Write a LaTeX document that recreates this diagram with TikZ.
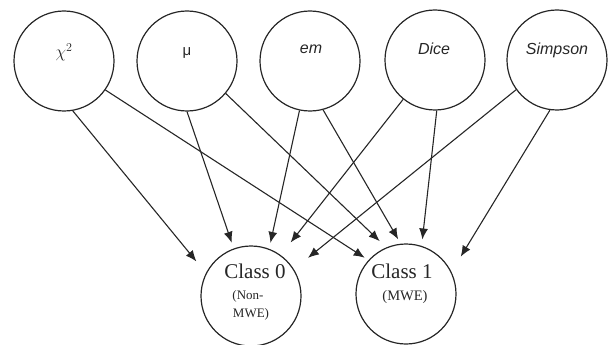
\documentclass[tikz,border=0pt]{standalone}
\usepackage{fontspec}
\setmainfont{Liberation Serif}
\newfontfamily\labsans{Liberation Sans}
\usetikzlibrary{arrows.meta}
\definecolor{ink}{gray}{0.15}
\begin{document}
\begin{tikzpicture}[x=1pt,y=-1pt,
  var/.style={circle,draw=ink,line width=1.2pt,minimum size=100pt,inner sep=0pt},
  lab/.style={anchor=base,inner sep=0pt,text=ink,font=\labsans\itshape\fontsize{16}{18}\selectfont},
  clab/.style={anchor=base,inner sep=0pt,text=ink,font=\fontsize{21}{23}\selectfont},
  slab/.style={anchor=base,inner sep=0pt,text=ink,font=\fontsize{13}{15}\selectfont},
  arr/.style={draw=ink,line width=1.1pt,-{Latex[length=11pt,width=9pt]}}]
\useasboundingbox (0,0) rectangle (608,345);
% top variable nodes
\node[var] (chi) at (64,61) {};
\node[var] (mu) at (187,61) {};
\node[var] (em) at (310,61) {};
\node[var] (dice) at (435,60) {};
\node[var] (simp) at (557,60) {};
% class nodes
\node[var] (c0) at (251,296) {};
\node[var] (c1) at (406,294) {};
% labels
\node[lab,font=\fontsize{17}{19}\selectfont] (chil) at (64,58) {$\chi^{2}$};
\node[lab,font=\labsans\fontsize{15}{17}\selectfont] (mul) at (187,56) {μ};
\node[lab] (eml) at (311,54) {em};
\node[lab] (dicel) at (434,55) {Dice};
\node[lab] (simpl) at (557,55) {Simpson};
\node[clab] (c0a) at (255,278) {Class 0};
\node[slab] (c0b) at (248,299) {(Non-};
\node[slab] (c0c) at (251,317) {MWE)};
\node[clab] (c1a) at (402,278) {Class 1};
\node[slab,font=\fontsize{14.5}{16}\selectfont] (c1b) at (405,300) {(MWE)};
% arrows
\draw[arr,shorten >=15pt] (chi.280) -- (c0.153);
\draw[arr,shorten >=4.4pt] (chi.325) -- (c1.138);
\draw[arr,shorten >=6pt] (mu.270) -- (c0.110);
\draw[arr,shorten >=9pt] (mu.320) -- (c1.113);
\draw[arr,shorten >=6pt] (em.258) -- (c0.69);
\draw[arr,shorten >=5pt] (em.285) -- (c1.96);
\draw[arr,shorten >=16pt] (dice.231) -- (c0.54);
\draw[arr,shorten >=6.4pt] (dice.272) -- (c1.72);
\draw[arr,shorten >=18pt] (simp.216) -- (c0.32);
\draw[arr,shorten >=17.7pt] (simp.262) -- (c1.26);
\end{tikzpicture}
\end{document}
